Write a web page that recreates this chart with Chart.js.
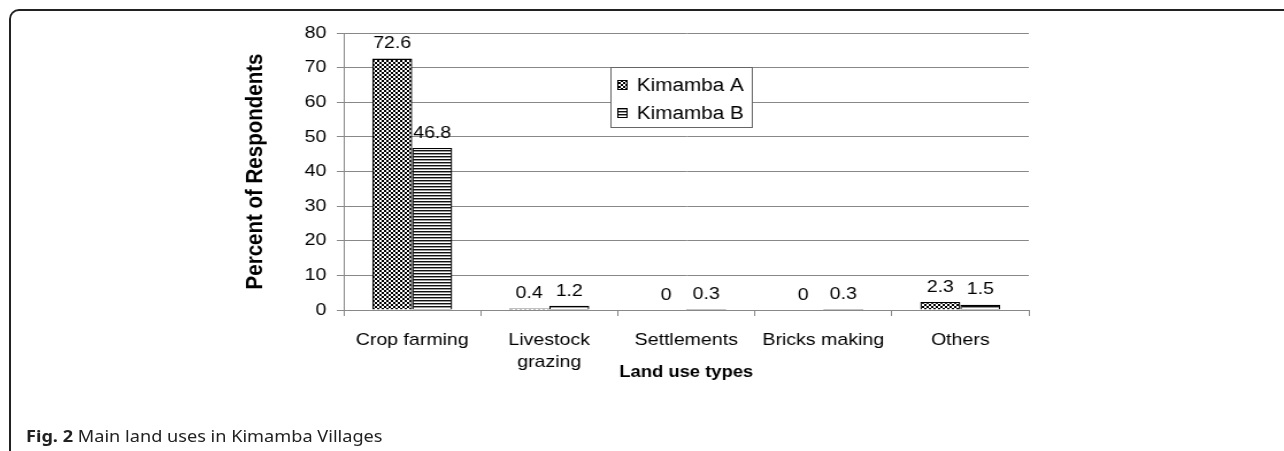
<!DOCTYPE html>
<html>
<head>
<meta charset="utf-8">
<script src="https://cdn.jsdelivr.net/npm/chart.js@4"></script>
<style>
  body { margin: 0; width: 1284px; height: 451px; overflow: hidden; position: relative; background: #fff; }
  #frame { position: absolute; left: 9px; top: 9px; width: 1300px; height: 470px;
           border-top: 2px solid #222; border-left: 2px solid #222; border-top-left-radius: 10px; }
  #wrap { position: absolute; left: 0; top: 0; width: 1117px; height: 451px;
          transform: scaleX(1.1495); transform-origin: 0 0; }
  #caption { position: absolute; left: 26px; top: 426px; font-family: "Noto Sans", "Open Sans", sans-serif;
             font-size: 16.5px; line-height: 20px; color: #222; white-space: nowrap;
             transform: scaleX(1.1); transform-origin: 0 0; }
</style>
</head>
<body>
<div id="frame"></div>
<div id="wrap"><canvas id="grafico" width="1117" height="451" style="width:1117px;height:451px"></canvas></div>
<div id="caption"><b>Fig. 2</b> Main land uses in Kimamba Villages</div>
<script>
const categorias = ["Crop farming", ["Livestock", "grazing"], "Settlements", "Bricks making", "Others"];
const series = ["Kimamba A", "Kimamba B"];
const kimambaA = [72.6, 0.4, 0, 0, 2.3];
const kimambaB = [46.8, 1.2, 0.3, 0.3, 1.5];
const yMin = 0;
const yMax = 80;
const yPaso = 10;

const fuente = "'Liberation Sans', Arial, sans-serif";

// rellenos con trama, como en el original en blanco y negro
function tramaCuadros() {
  const c = document.createElement("canvas");
  c.width = 4; c.height = 4;
  const g = c.getContext("2d");
  g.fillStyle = "#fff"; g.fillRect(0, 0, 4, 4);
  g.fillStyle = "#000";
  g.fillRect(0, 0, 2, 2);
  g.fillRect(2, 2, 2, 2);
  return g.createPattern(c, "repeat");
}
function tramaRayas() {
  const c = document.createElement("canvas");
  c.width = 4; c.height = 3;
  const g = c.getContext("2d");
  g.fillStyle = "#fff"; g.fillRect(0, 0, 4, 3);
  g.fillStyle = "#111"; g.fillRect(0, 0, 4, 1);
  g.fillStyle = "#999"; g.fillRect(0, 1, 4, 1);
  return g.createPattern(c, "repeat");
}
const ctx = document.getElementById("grafico").getContext("2d");
const rellenos = [tramaCuadros(), tramaRayas()];

const etiquetasYLeyenda = {
  id: "etiquetasYLeyenda",
  afterDatasetsDraw(chart) {
    const g = chart.ctx;
    g.save();
    g.font = "17px " + fuente;
    g.fillStyle = "#000";
    g.textAlign = "center";
    g.textBaseline = "middle";
    chart.data.datasets.forEach((ds, i) => {
      chart.getDatasetMeta(i).data.forEach((bar, j) => {
        g.fillText(String(ds.data[j]), bar.x, bar.y - 15);
      });
    });
    // leyenda dentro del área del gráfico
    const lx = 531, ly = 67, lw = 123, lh = 60;
    g.fillStyle = "#fff";
    g.fillRect(lx, ly, lw, lh);
    g.strokeStyle = "#666";
    g.lineWidth = 1;
    g.strokeRect(lx + 0.5, ly + 0.5, lw, lh);
    g.textAlign = "left";
    chart.data.datasets.forEach((ds, i) => {
      const cy = ly + 18 + i * 28;
      g.fillStyle = ds.backgroundColor;
      g.fillRect(lx + 6, cy - 5, 9, 10);
      g.strokeStyle = "#000";
      g.strokeRect(lx + 6.5, cy - 4.5, 8, 9);
      g.fillStyle = "#000";
      g.font = "18px " + fuente;
      g.fillText(ds.label, lx + 23, cy + 1);
    });
    g.restore();
  },
};

new Chart(ctx, {
  type: "bar",
  data: {
    labels: categorias,
    datasets: [
      {
        label: series[0],
        data: kimambaA,
        backgroundColor: rellenos[0],
        borderColor: "#000",
        borderWidth: 1.3,
      },
      {
        label: series[1],
        data: kimambaB,
        backgroundColor: rellenos[1],
        borderColor: "#000",
        borderWidth: 1.3,
      },
    ],
  },
  options: {
    responsive: false,
    animation: false,
    devicePixelRatio: 1,
    layout: { padding: { left: 209, right: 222, top: 33, bottom: 66 } },
    datasets: { bar: { barPercentage: 1, categoryPercentage: 0.584 } },
    plugins: {
      legend: { display: false },
      tooltip: { enabled: false },
    },
    scales: {
      x: {
        afterFit: (s) => { s.height = 75; },
        grid: { offset: true, drawOnChartArea: false, color: "#888", tickLength: 6 },
        border: { color: "#888" },
        ticks: { color: "#000", padding: 14, maxRotation: 0, autoSkip: false,
                  font: { family: fuente, size: 17, lineHeight: 1.25 } },
        title: { display: true, text: "Land use types", color: "#000", padding: { top: 0, bottom: 3 },
                 font: { family: fuente, size: 16, weight: "bold" } },
      },
      y: {
        min: yMin,
        max: yMax,
        afterFit: (s) => { s.width = 90; },
        grid: { color: "#888", tickLength: 6 },
        border: { color: "#888" },
        ticks: { stepSize: yPaso, color: "#000", padding: 9,
                 font: { family: fuente, size: 17 } },
        title: { display: true, text: "Percent of Respondents", color: "#000", padding: { top: 1, bottom: 0 },
                 font: { family: fuente, size: 20.5, weight: "bold" } },
      },
    },
  },
  plugins: [etiquetasYLeyenda],
});
</script>
</body>
</html>
